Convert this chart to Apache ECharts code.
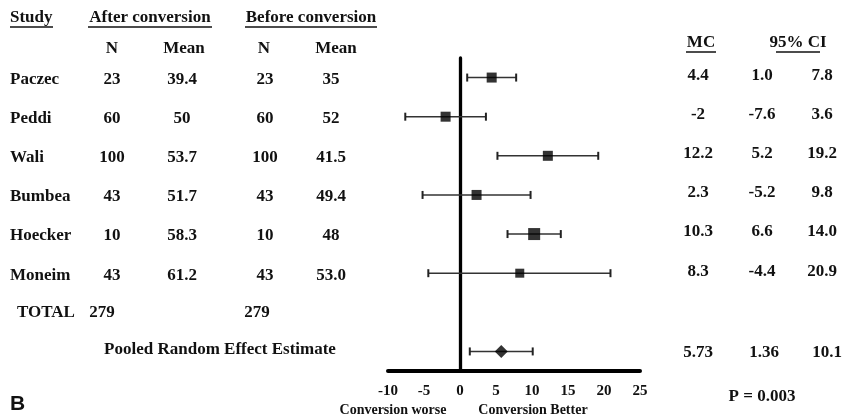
<!DOCTYPE html>
<html>
<head>
<meta charset="utf-8">
<script src="https://cdn.jsdelivr.net/npm/echarts@6/dist/echarts.min.js"></script>
<style>
  html, body { margin: 0; padding: 0; background: #fff; }
  #chart { width: 859px; height: 419px; }
</style>
</head>
<body>
<div id="chart"></div>
<script>
// study data
const studies = ["Paczec", "Peddi", "Wali", "Bumbea", "Hoecker", "Moneim"];
const nAfter = [23, 60, 100, 43, 10, 43];
const meanAfter = ["39.4", "50", "53.7", "51.7", "58.3", "61.2"];
const nBefore = [23, 60, 100, 43, 10, 43];
const meanBefore = ["35", "52", "41.5", "49.4", "48", "53.0"];
const mc = [4.4, -2, 12.2, 2.3, 10.3, 8.3];
const ciLow = [1.0, -7.6, 5.2, -5.2, 6.6, -4.4];
const ciHigh = [7.8, 3.6, 19.2, 9.8, 14.0, 20.9];
const boxSize = [10, 10, 10, 10, 12, 9];
const totalN = [279, 279];
const pooledEst = [5.73, 1.36, 10.1];
const pValue = "P = 0.003";
const xTicks = [-10, -5, 0, 5, 10, 15, 20, 25];

const totalRow = 6;
const pooledRow = 7;
const serif = "Liberation Serif";
const ink = "#111";

const chart = echarts.init(document.getElementById("chart"));

// table cells: [text, x, align, dy]
const tableRows = studies.map((s, i) => [
  [s, 10, "left", 2],
  [String(nAfter[i]), 112, "center", 2],
  [meanAfter[i], 182, "center", 2],
  [String(nBefore[i]), 265, "center", 2],
  [meanBefore[i], 331, "center", 2],
  [String(mc[i]), 698, "center", -2],
  [ciLow[i].toFixed(1), 762, "center", -2],
  [ciHigh[i].toFixed(1), 822, "center", -2]
]);
tableRows.push([
  ["TOTAL", 17, "left", 0],
  [String(totalN[0]), 102, "center", 0],
  [String(totalN[1]), 257, "center", 0]
]);
tableRows.push([
  ["Pooled Random Effect Estimate", 220, "center", -2],
  [String(pooledEst[0]), 698, "center", 1],
  [String(pooledEst[1]), 764, "center", 1],
  [String(pooledEst[2]), 827, "center", 1]
]);

const ciData = studies.map((s, i) => [ciLow[i], ciHigh[i], i]);
ciData.push([pooledEst[1], pooledEst[2], pooledRow]);

function text(str, x, y, align, size, family) {
  return {
    type: "text",
    x: x, y: y,
    style: {
      text: str,
      fill: ink,
      font: "bold " + (size || 17) + "px '" + (family || serif) + "'",
      align: align || "center",
      verticalAlign: "middle"
    }
  };
}
function underline(x1, x2, y) {
  return {
    type: "line",
    shape: { x1: x1, y1: y, x2: x2, y2: y },
    style: { stroke: ink, lineWidth: 1.5 }
  };
}

const option = {
  animation: false,
  backgroundColor: "#fff",
  grid: { left: 388, right: 219, top: 58, bottom: 48 },
  xAxis: {
    type: "value",
    min: xTicks[0],
    max: xTicks[xTicks.length - 1],
    interval: 5,
    splitLine: { show: false },
    axisTick: { show: false },
    axisLine: { onZero: false, lineStyle: { color: "#000", width: 4 } },
    axisLabel: {
      color: ink,
      fontFamily: serif,
      fontWeight: "bold",
      fontSize: 15,
      margin: 13,
      showMaxLabel: true,
      showMinLabel: true
    }
  },
  yAxis: {
    type: "value",
    inverse: true,
    min: -0.5,
    max: 7.5,
    splitLine: { show: false },
    axisTick: { show: false },
    axisLabel: { show: false },
    axisLine: { show: true, onZero: true, lineStyle: { color: "#000", width: 3.3 } }
  },
  graphic: [
    text("Study", 10, 18, "left"),
    underline(10, 53, 27),
    text("After conversion", 150, 18),
    underline(88, 212, 27),
    text("Before conversion", 311, 18),
    underline(245, 377, 27),
    text("N", 112, 49),
    text("Mean", 184, 49),
    text("N", 264, 49),
    text("Mean", 336, 49),
    text("MC", 701, 43),
    underline(686, 716, 52),
    text("95% CI", 798, 43),
    underline(776, 820, 52),
    text(pValue, 762, 397),
    text("Conversion worse", 393, 410, "center", 14),
    text("Conversion Better", 533, 410, "center", 14),
    text("B", 10, 404, "left", 21, "Liberation Sans")
  ],
  series: [
    {
      type: "custom",
      name: "ci",
      data: ciData,
      encode: { x: [0, 1], y: 2 },
      z: 2,
      renderItem: function (params, api) {
        const lo = api.coord([api.value(0), api.value(2)]);
        const hi = api.coord([api.value(1), api.value(2)]);
        const st = { stroke: "#333", lineWidth: 1.5 };
        const cap = { stroke: "#222", lineWidth: 2 };
        return {
          type: "group",
          children: [
            { type: "line", shape: { x1: lo[0], y1: lo[1], x2: hi[0], y2: hi[1] }, style: st },
            { type: "line", shape: { x1: lo[0], y1: lo[1] - 4, x2: lo[0], y2: lo[1] + 4 }, style: cap },
            { type: "line", shape: { x1: hi[0], y1: hi[1] - 4, x2: hi[0], y2: hi[1] + 4 }, style: cap }
          ]
        };
      }
    },
    {
      type: "scatter",
      name: "studies",
      symbol: "rect",
      z: 3,
      data: mc.map((v, i) => ({ value: [v, i], symbolSize: boxSize[i] })),
      itemStyle: { color: "#000" }
    },
    {
      type: "scatter",
      name: "pooled",
      symbol: "diamond",
      symbolSize: [13, 13],
      z: 3,
      data: [[pooledEst[0], pooledRow]],
      itemStyle: { color: "#000" }
    },
    {
      type: "custom",
      name: "table",
      clip: false,
      silent: true,
      data: tableRows.map((r, i) => [0, i < studies.length ? i : (i === studies.length ? totalRow : pooledRow)]),
      encode: { x: 0, y: 1 },
      renderItem: function (params, api) {
        const y = api.coord([0, api.value(1)])[1];
        const cells = tableRows[params.dataIndex];
        return {
          type: "group",
          children: cells.map(c => text(c[0], c[1], y + c[3], c[2]))
        };
      }
    }
  ]
};

chart.setOption(option);
window.addEventListener("resize", function () {
  chart.resize();
});
</script>
</body>
</html>
